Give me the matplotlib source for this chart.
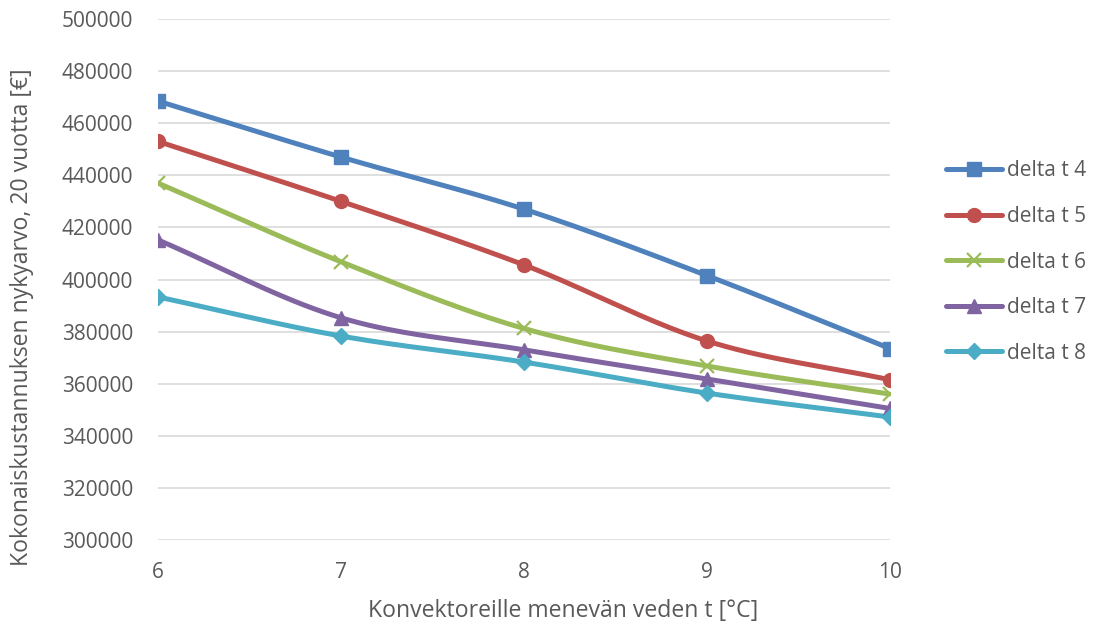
import numpy as np
import matplotlib
matplotlib.use("Agg")
import matplotlib.pyplot as plt
from matplotlib.lines import Line2D

plt.rcParams['font.family'] = ['Open Sans', 'DejaVu Sans']

# Supply water temperature to convectors [°C]
temps = [6, 7, 8, 9, 10]

# Present value of total costs over 20 years [€] for each delta t
delta_t4 = [468500, 447000, 427000, 401500, 373500]
delta_t5 = [453000, 430000, 405600, 376400, 361500]
delta_t6 = [437000, 406800, 381200, 366800, 356000]
delta_t7 = [415200, 385300, 373000, 361800, 350500]
delta_t8 = [393300, 378300, 368300, 356400, 347200]

series_labels = ["delta t 4", "delta t 5", "delta t 6", "delta t 7", "delta t 8"]
series_values = [delta_t4, delta_t5, delta_t6, delta_t7, delta_t8]
colors = ["#4F81BD", "#C0504D", "#9BBB59", "#8064A2", "#4BACC6"]
markers = ["s", "o", "x", "^", "D"]
msizes = [10, 10, 10, 10, 8]

W, H = 1093, 624


def smooth(x, y, n=40):
    """Catmull-Rom spline through the points (Excel-style smoothed line)."""
    x = np.asarray(x, float)
    y = np.asarray(y, float)
    px = np.concatenate([[2 * x[0] - x[1]], x, [2 * x[-1] - x[-2]]])
    py = np.concatenate([[2 * y[0] - y[1]], y, [2 * y[-1] - y[-2]]])
    xs, ys = [], []
    t = np.linspace(0, 1, n)
    for i in range(1, len(px) - 2):
        p0, p1, p2, p3 = py[i - 1], py[i], py[i + 1], py[i + 2]
        q0, q1, q2, q3 = px[i - 1], px[i], px[i + 1], px[i + 2]
        # Bezier control points
        c1y = p1 + (p2 - p0) / 6
        c2y = p2 - (p3 - p1) / 6
        c1x = q1 + (q2 - q0) / 6
        c2x = q2 - (q3 - q1) / 6
        bx = (1 - t) ** 3 * q1 + 3 * (1 - t) ** 2 * t * c1x + 3 * (1 - t) * t ** 2 * c2x + t ** 3 * q2
        by = (1 - t) ** 3 * p1 + 3 * (1 - t) ** 2 * t * c1y + 3 * (1 - t) * t ** 2 * c2y + t ** 3 * p2
        xs.append(bx)
        ys.append(by)
    return np.concatenate(xs), np.concatenate(ys)


fig = plt.figure(figsize=(W / 100, H / 100), dpi=100)
ax = fig.add_axes([158 / W, 1 - 540 / H, (890 - 158) / W, (540 - 19) / H])

handles = []
for lab, vals, c, m, ms in zip(series_labels, series_values, colors, markers, msizes):
    sx, sy = smooth(temps, vals)
    ax.plot(sx, sy, color=c, lw=3.6, solid_capstyle="round", zorder=3)
    if m == "x":
        ax.plot(temps, vals, ls="none", marker=m, color=c, ms=ms, mew=1.6, zorder=4)
    else:
        ax.plot(temps, vals, ls="none", marker=m, color=c, ms=ms, mec=c, zorder=4)
    handles.append(Line2D([], [], color=c, lw=3.6, marker=m, ms=ms,
                          mew=1.6 if m == "x" else 1.0, mec=c, solid_capstyle="round"))

ax.set_xlim(6, 10)
ax.set_ylim(300000, 500000)
ax.set_xticks(temps)
ax.set_yticks(np.arange(300000, 500001, 20000))
ax.yaxis.grid(True, color="#D9D9D9", lw=1.2)
ax.set_axisbelow(True)
for s in ax.spines.values():
    s.set_visible(False)
ax.tick_params(length=0, labelsize=15, colors="#595959")
ax.tick_params(axis="x", pad=16)
ax.tick_params(axis="y", pad=18)

# Axis titles
fig.text(563 / W, 1 - 617 / H, "Konvektoreille menevän veden t [°C]",
         fontsize=16.6, color="#595959", ha="center", va="baseline")
fig.text(22 / W, 1 - 317 / H, "Kokonaiskustannuksen nykyarvo, 20 vuotta [€]",
         fontsize=16.6, color="#595959", ha="center", va="center", rotation=90)

leg = fig.legend(handles, series_labels, loc="upper left",
                 bbox_to_anchor=(938 / W, 1 - 152 / H), frameon=False,
                 fontsize=15, labelcolor="#595959", handlelength=2.65,
                 handletextpad=0.25, labelspacing=1.18, borderaxespad=0)

fig.savefig("out.png", dpi=100)
